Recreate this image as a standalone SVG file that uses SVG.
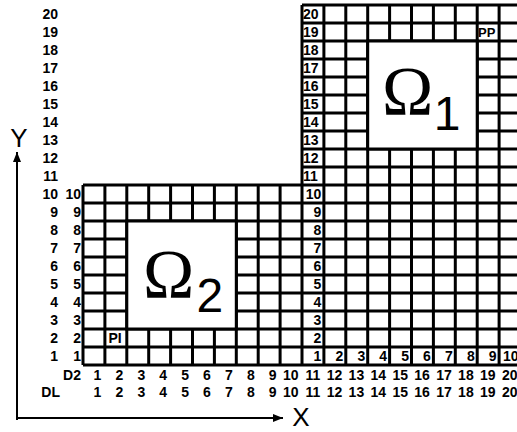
<svg xmlns="http://www.w3.org/2000/svg" width="517" height="432" viewBox="0 0 517 432">
<style>
  .grid { stroke: #000; stroke-width: 3; fill: none; }
  .blk { fill: #fff; stroke: #000; stroke-width: 3; }
  .lbl { font-family: "Liberation Sans", Arial, sans-serif; font-weight: bold; font-size: 14px; fill: #000; }
  .end { text-anchor: end; }
  .omega { font-family: "Liberation Serif", "Times New Roman", serif; font-size: 69px; fill: #000; }
  .sub { font-family: "Liberation Sans", Arial, sans-serif; font-size: 48px; fill: #000; }
  .axis { stroke: #000; stroke-width: 2; fill: none; }
  .axlbl { font-family: "Liberation Sans", Arial, sans-serif; font-size: 26px; fill: #000; text-anchor: middle; }
</style>
<defs>
  <marker id="arr" viewBox="0 0 10 8" refX="9" refY="4" markerWidth="10" markerHeight="8" markerUnits="userSpaceOnUse" orient="auto">
    <path d="M0,0 L10,4 L0,8 Z" fill="#000"/>
  </marker>
</defs>
<rect width="517" height="432" fill="#fff"/>

<g id="grid-omega1">
  <path class="grid" d="M302,5 V185 M323.9,5 V185 M345.8,5 V185 M367.7,5 V185 M389.6,5 V185 M411.5,5 V185 M433.4,5 V185 M455.3,5 V185 M477.2,5 V185 M499.1,5 V185 M521,5 V185
  M302,5 H521 M302,23 H521 M302,41 H521 M302,59 H521 M302,77 H521 M302,95 H521 M302,113 H521 M302,131 H521 M302,149 H521 M302,167 H521"/>
  <rect class="blk" x="367.7" y="41" width="109.5" height="108"/>
</g>

<g id="grid-lower">
  <path class="grid" d="M83,185 V365 M104.9,185 V365 M126.8,185 V365 M148.7,185 V365 M170.6,185 V365 M192.5,185 V365 M214.4,185 V365 M236.3,185 V365 M258.2,185 V365 M280.1,185 V365 M302,185 V365 M323.9,185 V365 M345.8,185 V365 M367.7,185 V365 M389.6,185 V365 M411.5,185 V365 M433.4,185 V365 M455.3,185 V365 M477.2,185 V365 M499.1,185 V365 M521,185 V365
  M83,185 H521 M83,203 H521 M83,221 H521 M83,239 H521 M83,257 H521 M83,275 H521 M83,293 H521 M83,311 H521 M83,329 H521 M83,347 H521 M83,365 H521"/>
  <rect class="blk" x="126.8" y="221" width="109.5" height="108"/>
</g>

<g id="omega1">
  <text class="omega" x="382" y="115">Ω</text>
  <text class="sub" x="433.8" y="130">1</text>
</g>
<g id="omega2">
  <text class="omega" x="143" y="298">Ω</text>
  <text class="sub" x="196.5" y="311.5">2</text>
</g>

<g id="cell-labels" class="lbl">
  <text x="303" y="19">20</text>
  <text x="303" y="37">19</text>
  <text x="303" y="55">18</text>
  <text x="303" y="73">17</text>
  <text x="303" y="91">16</text>
  <text x="303" y="109">15</text>
  <text x="303" y="127">14</text>
  <text x="303" y="145">13</text>
  <text x="303" y="163">12</text>
  <text x="303" y="181">11</text>
  <g class="end">
    <text x="321.4" y="199">10</text>
    <text x="321.4" y="217">9</text>
    <text x="321.4" y="235">8</text>
    <text x="321.4" y="253">7</text>
    <text x="321.4" y="271">6</text>
    <text x="321.4" y="289">5</text>
    <text x="321.4" y="307">4</text>
    <text x="321.4" y="325">3</text>
    <text x="321.4" y="343">2</text>
    <text x="321.4" y="361">1</text>
    <text x="343.3" y="361">2</text>
    <text x="365.2" y="361">3</text>
    <text x="387.1" y="361">4</text>
    <text x="409" y="361">5</text>
    <text x="430.9" y="361">6</text>
    <text x="452.8" y="361">7</text>
    <text x="474.7" y="361">8</text>
    <text x="496.6" y="361">9</text>
    <text x="518.5" y="361">10</text>
  </g>
  <text x="108.5" y="343">PI</text>
  <text x="478" y="37" font-size="13">PP</text>
</g>

<g id="row-labels" class="lbl end">
  <text x="58" y="19">20</text>
  <text x="58" y="37">19</text>
  <text x="58" y="55">18</text>
  <text x="58" y="73">17</text>
  <text x="58" y="91">16</text>
  <text x="58" y="109">15</text>
  <text x="58" y="127">14</text>
  <text x="58" y="145">13</text>
  <text x="58" y="163">12</text>
  <text x="58" y="181">11</text>
  <text x="58" y="199">10</text>
  <text x="58" y="217">9</text>
  <text x="58" y="235">8</text>
  <text x="58" y="253">7</text>
  <text x="58" y="271">6</text>
  <text x="58" y="289">5</text>
  <text x="58" y="307">4</text>
  <text x="58" y="325">3</text>
  <text x="58" y="343">2</text>
  <text x="58" y="361">1</text>
  <text x="81" y="199">10</text>
  <text x="81" y="217">9</text>
  <text x="81" y="235">8</text>
  <text x="81" y="253">7</text>
  <text x="81" y="271">6</text>
  <text x="81" y="289">5</text>
  <text x="81" y="307">4</text>
  <text x="81" y="325">3</text>
  <text x="81" y="343">2</text>
  <text x="81" y="361">1</text>
</g>

<g id="col-labels" class="lbl end">
  <text x="81" y="380">D2</text>
  <text x="101.4" y="380">1</text>
  <text x="123.3" y="380">2</text>
  <text x="145.2" y="380">3</text>
  <text x="167.1" y="380">4</text>
  <text x="189" y="380">5</text>
  <text x="210.9" y="380">6</text>
  <text x="232.8" y="380">7</text>
  <text x="254.7" y="380">8</text>
  <text x="276.6" y="380">9</text>
  <text x="298.5" y="380">10</text>
  <text x="320.4" y="380">11</text>
  <text x="342.3" y="380">12</text>
  <text x="364.2" y="380">13</text>
  <text x="386.1" y="380">14</text>
  <text x="408" y="380">15</text>
  <text x="429.9" y="380">16</text>
  <text x="451.8" y="380">17</text>
  <text x="473.7" y="380">18</text>
  <text x="495.6" y="380">19</text>
  <text x="517.5" y="380">20</text>
  <text x="60" y="397">DL</text>
  <text x="101.4" y="397">1</text>
  <text x="123.3" y="397">2</text>
  <text x="145.2" y="397">3</text>
  <text x="167.1" y="397">4</text>
  <text x="189" y="397">5</text>
  <text x="210.9" y="397">6</text>
  <text x="232.8" y="397">7</text>
  <text x="254.7" y="397">8</text>
  <text x="276.6" y="397">9</text>
  <text x="298.5" y="397">10</text>
  <text x="320.4" y="397">11</text>
  <text x="342.3" y="397">12</text>
  <text x="364.2" y="397">13</text>
  <text x="386.1" y="397">14</text>
  <text x="408" y="397">15</text>
  <text x="429.9" y="397">16</text>
  <text x="451.8" y="397">17</text>
  <text x="473.7" y="397">18</text>
  <text x="495.6" y="397">19</text>
  <text x="517.5" y="397">20</text>
</g>

<g id="connectors">
  <line class="axis" x1="17" y1="419" x2="17" y2="153" marker-end="url(#arr)" stroke-linecap="square"/>
  <line class="axis" x1="17" y1="418" x2="282" y2="418" marker-end="url(#arr)" stroke-linecap="square"/>
</g>
<g id="axis-labels">
  <text class="axlbl" x="19" y="147">Y</text>
  <text class="axlbl" x="301" y="426" font-size="25">X</text>
</g>
</svg>
